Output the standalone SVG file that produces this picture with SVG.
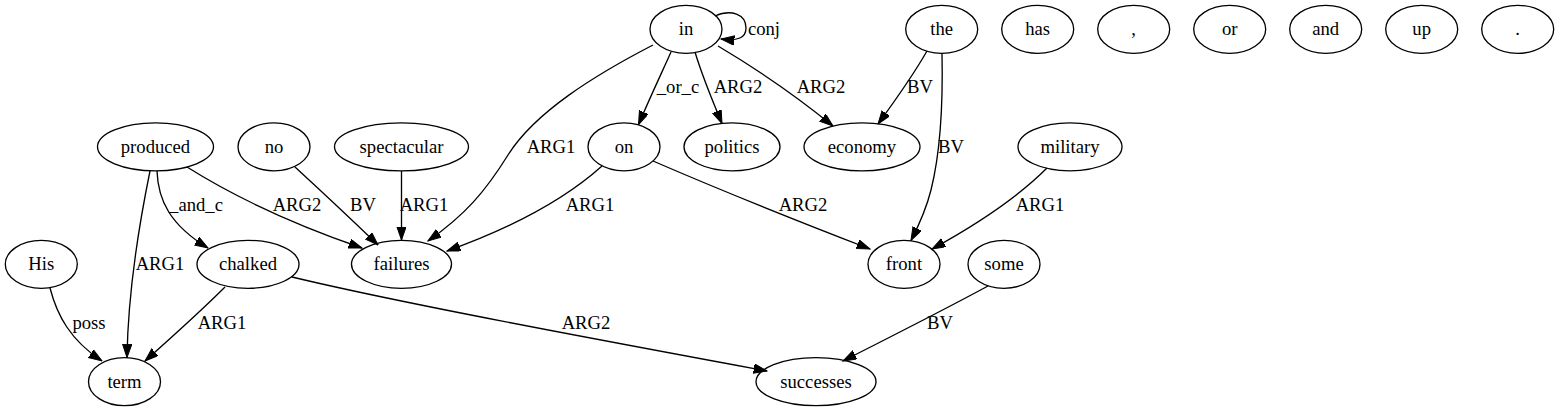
<svg xmlns="http://www.w3.org/2000/svg" width="1559" height="411" viewBox="0 0 1559 411" font-family="Liberation Serif, Times New Roman, Times, serif" font-size="18.67">
<style>
.n ellipse{fill:none;stroke:#000;stroke-width:1.33}
text{fill:#000;text-anchor:middle}
.e path{fill:none;stroke:#000;stroke-width:1.33;marker-end:url(#ah)}
</style>
<defs>
<marker id="ah" markerUnits="userSpaceOnUse" markerWidth="14" markerHeight="10" refX="13.3" refY="4.67" orient="auto">
<path d="M0,0 L13.3,4.67 L0,9.33 z" fill="#000" stroke="#000" stroke-width="1"/>
</marker>
</defs>
<rect width="1559" height="411" fill="#fff"/>
<g id="edges" class="e">
<path d="M715,16 C731,9 746,14 746,28 C746,38 738,41 721,39"/>
<text x="764" y="35">conj</text>
<path d="M653,45 C595,75 535,112 508,155 C485,192 465,215 428,241"/>
<text x="551" y="153">ARG1</text>
<path d="M671,52 C663,70 652,93 638.5,124.5"/>
<text x="678" y="93">_or_c</text>
<path d="M695,52 C701,72 710,95 722,123.5"/>
<text x="738" y="93">ARG2</text>
<path d="M718,46 C750,65 795,95 833,126"/>
<text x="821" y="93">ARG2</text>
<path d="M927,51 C915,72 897,98 878,124"/>
<text x="920" y="93">BV</text>
<path d="M942,53 C943,100 941,150 931,190 C926,210 919,225 911,240.5"/>
<text x="951" y="153">BV</text>
<path d="M187,167 C222,189 275,218 362,248"/>
<text x="297" y="211">ARG2</text>
<path d="M157,171 C158,200 170,225 208,248"/>
<text x="196" y="211">_and_c</text>
<path d="M150,171 C140,220 128,290 127,357.5"/>
<text x="160" y="270">ARG1</text>
<path d="M295,167 C320,190 350,218 378,245"/>
<text x="363" y="211">BV</text>
<path d="M401.5,171 L401.5,240"/>
<text x="424" y="211">ARG1</text>
<path d="M602,166 C572,193 525,223 447,251"/>
<text x="590" y="211">ARG1</text>
<path d="M653,161 C720,190 800,222 870,249"/>
<text x="803" y="211">ARG2</text>
<path d="M1047,168 C1020,195 985,220 932,249"/>
<text x="1040" y="211">ARG1</text>
<path d="M50,288 C57,315 70,340 102,361"/>
<text x="89" y="329">poss</text>
<path d="M225,287 C200,312 172,337 145,361"/>
<text x="222" y="329">ARG1</text>
<path d="M292,277 C400,303 600,340 767,371"/>
<text x="586" y="329">ARG2</text>
<path d="M988,286 C940,312 890,337 843,361"/>
<text x="940" y="329">BV</text>
</g>
<g id="n_in" class="n"><ellipse cx="686" cy="29.3" rx="36" ry="24"/><text x="686" y="35.3">in</text></g>
<g id="n_the" class="n"><ellipse cx="941.7" cy="29.3" rx="36" ry="24"/><text x="941.7" y="35.3">the</text></g>
<g id="n_has" class="n"><ellipse cx="1037.7" cy="29.3" rx="36" ry="24"/><text x="1037.7" y="35.3">has</text></g>
<g id="n_comma" class="n"><ellipse cx="1133.7" cy="29.3" rx="36" ry="24"/><text x="1133.7" y="35.3">,</text></g>
<g id="n_or" class="n"><ellipse cx="1229.7" cy="29.3" rx="36" ry="24"/><text x="1229.7" y="35.3">or</text></g>
<g id="n_and" class="n"><ellipse cx="1325.7" cy="29.3" rx="36" ry="24"/><text x="1325.7" y="35.3">and</text></g>
<g id="n_up" class="n"><ellipse cx="1421.7" cy="29.3" rx="36" ry="24"/><text x="1421.7" y="35.3">up</text></g>
<g id="n_period" class="n"><ellipse cx="1517.7" cy="29.3" rx="36" ry="24"/><text x="1517.7" y="35.3">.</text></g>
<g id="n_produced" class="n"><ellipse cx="155.5" cy="146.8" rx="58" ry="24"/><text x="155.5" y="152.8">produced</text></g>
<g id="n_no" class="n"><ellipse cx="274" cy="146.8" rx="36" ry="24"/><text x="274" y="152.8">no</text></g>
<g id="n_spectacular" class="n"><ellipse cx="401.5" cy="146.8" rx="67" ry="24"/><text x="401.5" y="152.8">spectacular</text></g>
<g id="n_on" class="n"><ellipse cx="624" cy="146.8" rx="36" ry="24"/><text x="624" y="152.8">on</text></g>
<g id="n_politics" class="n"><ellipse cx="732" cy="146.8" rx="48" ry="24"/><text x="732" y="152.8">politics</text></g>
<g id="n_economy" class="n"><ellipse cx="862" cy="146.8" rx="58" ry="24"/><text x="862" y="152.8">economy</text></g>
<g id="n_military" class="n"><ellipse cx="1070" cy="146.8" rx="52" ry="24"/><text x="1070" y="152.8">military</text></g>
<g id="n_His" class="n"><ellipse cx="41.3" cy="264.3" rx="36" ry="24"/><text x="41.3" y="270.3">His</text></g>
<g id="n_chalked" class="n"><ellipse cx="248" cy="264.3" rx="51" ry="24"/><text x="248" y="270.3">chalked</text></g>
<g id="n_failures" class="n"><ellipse cx="401.5" cy="264.3" rx="50" ry="24"/><text x="401.5" y="270.3">failures</text></g>
<g id="n_front" class="n"><ellipse cx="904" cy="264.3" rx="36" ry="24"/><text x="904" y="270.3">front</text></g>
<g id="n_some" class="n"><ellipse cx="1004" cy="264.3" rx="36" ry="24"/><text x="1004" y="270.3">some</text></g>
<g id="n_term" class="n"><ellipse cx="124.5" cy="381.7" rx="36" ry="24"/><text x="124.5" y="387.7">term</text></g>
<g id="n_successes" class="n"><ellipse cx="816" cy="381.7" rx="60" ry="24"/><text x="816" y="387.7">successes</text></g>
</svg>
